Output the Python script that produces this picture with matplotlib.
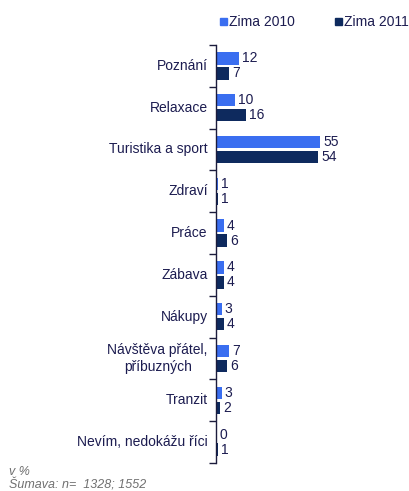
import matplotlib
matplotlib.use("Agg")
import matplotlib.pyplot as plt
import numpy as np

categories = ["Poznání", "Relaxace", "Turistika a sport", "Zdraví", "Práce",
              "Zábava", "Nákupy", "Návštěva přátel,\npříbuzných", "Tranzit",
              "Nevím, nedokážu říci"]
zima_2010 = [12, 10, 55, 1, 4, 4, 3, 7, 3, 0]
zima_2011 = [7, 16, 54, 1, 6, 4, 4, 6, 2, 1]
series_names = ["Zima 2010", "Zima 2011"]

c1 = "#3a6ef0"
c2 = "#0e2a5e"
txt = "#1c1c50"

plt.rcParams['font.family'] = ['Liberation Sans', 'DejaVu Sans']

fig = plt.figure(figsize=(4.09, 4.91), dpi=100)
W, H = 409, 491
ax_l, ax_r, ax_t, ax_b = 216, 400, 45, 463
ax = fig.add_axes([ax_l / W, 1 - ax_b / H, (ax_r - ax_l) / W, (ax_b - ax_t) / H])

n = len(categories)
y = np.arange(n)
h = 0.30
off = 0.18
ax.barh(y - off, zima_2010, height=h, color=c1)
ax.barh(y + off, zima_2011, height=h, color=c2)

xmax = (ax_r - ax_l) / 1.89
ax.set_xlim(0, xmax)
ax.set_ylim(n - 0.5, -0.5)

for i in range(n):
    ax.text(zima_2010[i] + 1.6, y[i] - off, str(zima_2010[i]), va="center",
            ha="left", fontsize=10, color=txt)
    ax.text(zima_2011[i] + 1.6, y[i] + off, str(zima_2011[i]), va="center",
            ha="left", fontsize=10, color=txt)
    ax.text(-4.3, y[i], categories[i], va="center", ha="right", fontsize=10,
            color=txt, multialignment="center")

for s in ["top", "right", "bottom"]:
    ax.spines[s].set_visible(False)
ax.spines["left"].set_color("#1c1c3c")
ax.spines["left"].set_linewidth(1.0)
ax.set_xticks([])
ax.set_yticks(np.arange(n + 1) - 0.5)
ax.set_yticklabels([])
ax.tick_params(axis="y", length=5, color="#1c1c3c", width=1.0)

# legend
fig.patches.append(plt.Rectangle((220 / W, 1 - 25 / H), 7 / W, 7 / H,
                                 transform=fig.transFigure, color=c1))
fig.text(229 / W, 1 - 21.5 / H, series_names[0], fontsize=10, color=txt,
         va="center", ha="left")
fig.patches.append(plt.Rectangle((335 / W, 1 - 25 / H), 7 / W, 7 / H,
                                 transform=fig.transFigure, color=c2))
fig.text(344 / W, 1 - 21.5 / H, series_names[1], fontsize=10, color=txt,
         va="center", ha="left")

fig.text(9 / W, 1 - 472 / H, "v %", fontsize=9, style="italic",
         color="#707070", va="center")
fig.text(9 / W, 1 - 485 / H, "Šumava: n=  1328; 1552", fontsize=9,
         style="italic", color="#707070", va="center")

fig.savefig("out.png", dpi=100)
